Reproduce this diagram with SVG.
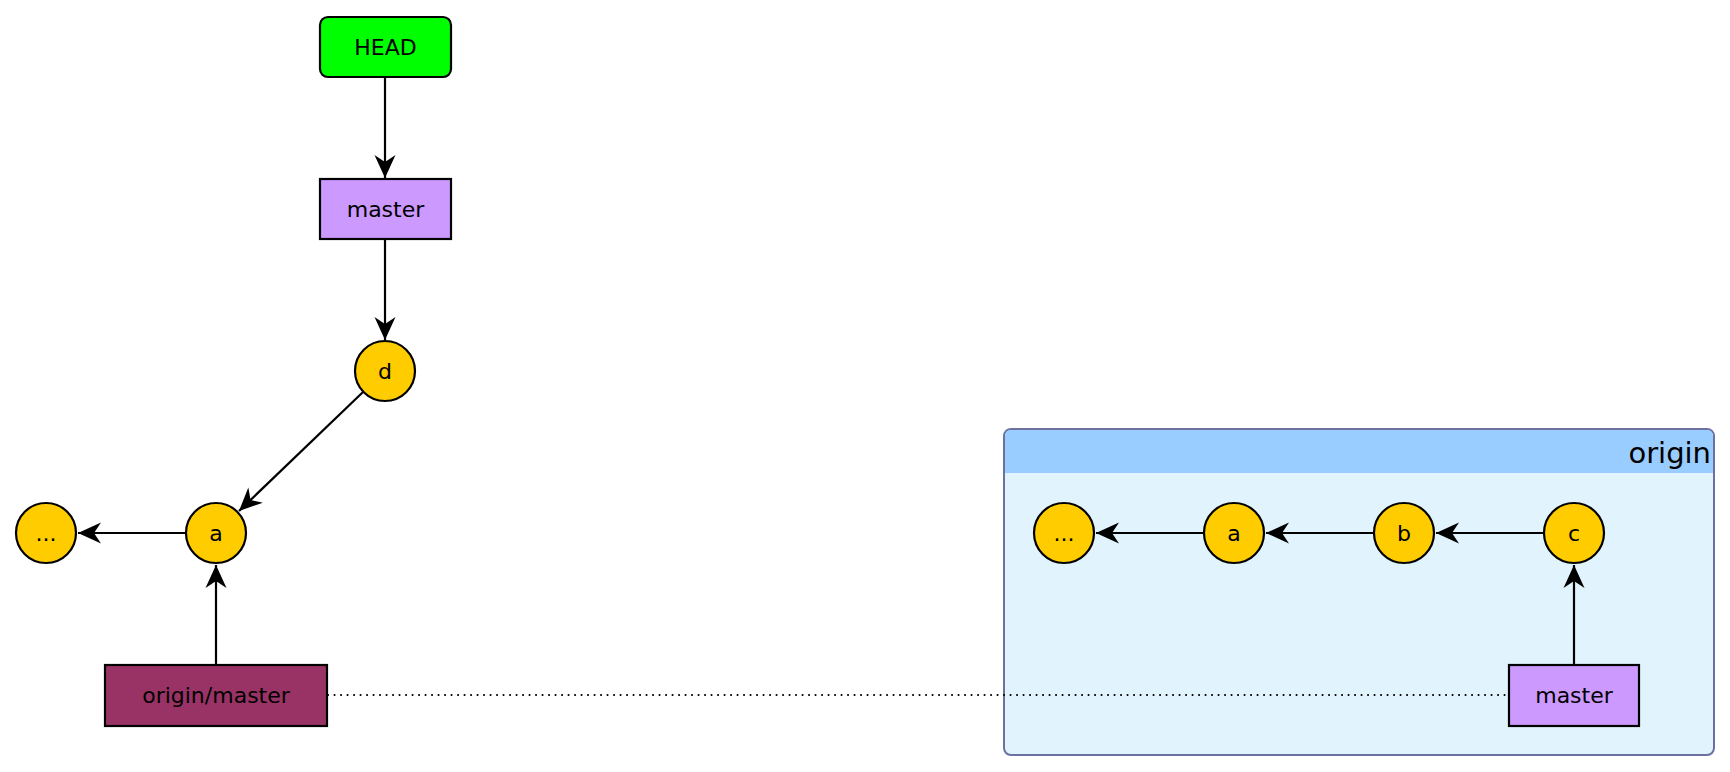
<svg xmlns="http://www.w3.org/2000/svg" width="1730" height="772" viewBox="0 0 1730 772">
<style>
.commit{fill:#ffcc00;stroke:#000;stroke-width:2.2}
.branch{fill:#cc99ff;stroke:#000;stroke-width:2.2}
.t{font-family:"DejaVu Sans",sans-serif;font-size:22px;fill:#000;text-anchor:middle;dominant-baseline:central}
.edge{stroke:#000;stroke-width:2.2;fill:none}
</style>
<defs>
<marker id="arr" markerUnits="userSpaceOnUse" markerWidth="1" markerHeight="1" refX="0" refY="0" orient="auto" overflow="visible">
<path d="M0,0 L-23,-10.5 L-16,0 L-23,10.5 Z" fill="#000"/>
</marker>
</defs>
<g id="origin">
<rect x="1004" y="429" width="710" height="326" rx="7" fill="#e1f3fd" stroke="#6c71a0" stroke-width="2"/>
<path d="M1005,473 V436 Q1005,430 1011,430 H1707 Q1713,430 1713,436 V473 Z" fill="#99ccff"/>
<text x="1711" y="453" style="font-family:'DejaVu Sans',sans-serif;font-size:29px;text-anchor:end;dominant-baseline:central">origin</text>
</g>
<g id="connectors">
<line class="edge" x1="385" y1="77" x2="385" y2="178" marker-end="url(#arr)"/>
<line class="edge" x1="385" y1="239" x2="385" y2="340" marker-end="url(#arr)"/>
<line class="edge" x1="363.3" y1="391.8" x2="239" y2="511" marker-end="url(#arr)"/>
<line class="edge" x1="186" y1="533" x2="78" y2="533" marker-end="url(#arr)"/>
<line class="edge" x1="216" y1="665" x2="216" y2="565" marker-end="url(#arr)"/>
<line x1="328" y1="695" x2="1509" y2="695" stroke="#000" stroke-width="2" stroke-dasharray="0.1,6.4" stroke-linecap="round"/>
<line class="edge" x1="1544" y1="533" x2="1436" y2="533" marker-end="url(#arr)"/>
<line class="edge" x1="1374" y1="533" x2="1266" y2="533" marker-end="url(#arr)"/>
<line class="edge" x1="1204" y1="533" x2="1096" y2="533" marker-end="url(#arr)"/>
<line class="edge" x1="1574" y1="665" x2="1574" y2="565" marker-end="url(#arr)"/>
</g>
<g id="head">
<rect x="320" y="17" width="131" height="60" rx="8" fill="#00ff00" stroke="#000" stroke-width="2.2"/>
<text class="t" x="385.5" y="47">HEAD</text>
</g>
<g id="master">
<rect class="branch" x="320" y="179" width="131" height="60"/>
<text class="t" x="385.5" y="209">master</text>
</g>
<g id="commit-d">
<circle class="commit" cx="385" cy="371" r="30"/>
<text class="t" x="385" y="371">d</text>
</g>
<g id="commit-a">
<circle class="commit" cx="216" cy="533" r="30"/>
<text class="t" x="216" y="533">a</text>
</g>
<g id="commit-dots">
<circle class="commit" cx="46" cy="533" r="30"/>
<text class="t" x="46" y="533">...</text>
</g>
<g id="origin-master-ref">
<rect x="105" y="665" width="222" height="61" fill="#993366" stroke="#000" stroke-width="2.2"/>
<text class="t" x="216" y="695">origin/master</text>
</g>
<g id="origin-dots">
<circle class="commit" cx="1064" cy="533" r="30"/>
<text class="t" x="1064" y="533">...</text>
</g>
<g id="origin-a">
<circle class="commit" cx="1234" cy="533" r="30"/>
<text class="t" x="1234" y="533">a</text>
</g>
<g id="origin-b">
<circle class="commit" cx="1404" cy="533" r="30"/>
<text class="t" x="1404" y="533">b</text>
</g>
<g id="origin-c">
<circle class="commit" cx="1574" cy="533" r="30"/>
<text class="t" x="1574" y="533">c</text>
</g>
<g id="origin-master">
<rect class="branch" x="1509" y="665" width="130" height="61"/>
<text class="t" x="1574" y="695">master</text>
</g>
</svg>
